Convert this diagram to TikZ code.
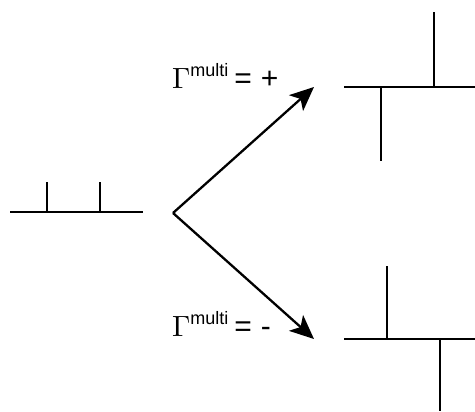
\documentclass[tikz,border=0pt]{standalone}
\usepackage{fontspec}
\usetikzlibrary{arrows.meta}
\newfontfamily\labelsans{Liberation Sans}
\newcommand{\gammasym}{\resizebox{!}{20pt}{$\Gamma$}}
\newcommand{\multisup}{\raisebox{13pt}{\resizebox{38pt}{!}{\labelsans multi}}}
\newcommand{\signpart}[1]{{\labelsans\fontsize{30pt}{32pt}\selectfont\hspace{6pt}=\hspace{9pt}#1}}
\tikzset{
  bar/.style={line width=2.4pt, line cap=butt},
  branch/.style={line width=2.3pt, -{Stealth[length=24pt,width=21pt,inset=6pt]}},
  label/.style={anchor=base west, inner sep=0pt, outer sep=0pt}
}
\begin{document}
\begin{tikzpicture}[x=1pt,y=-1pt]
  \useasboundingbox (0,0) rectangle (475,412);

  % initial configuration: line with two upward legs
  \coordinate (a0) at (10,212);
  \coordinate (a1) at (143,212);
  \coordinate (a2) at (47,212);
  \coordinate (a3) at (47,182);
  \coordinate (a4) at (100,212);
  \coordinate (a5) at (100,182);
  \draw[bar] (a0) -- (a1);
  \draw[bar] (a2) -- (a3);
  \draw[bar] (a4) -- (a5);

  % branching arrows
  \coordinate (v) at (173,213);
  \coordinate (tipup) at (314,87);
  \coordinate (tipdown) at (314,339);
  \draw[branch] (v) -- (tipup);
  \draw[branch] (v) -- (tipdown);

  % upper result
  \coordinate (b0) at (344,87);
  \coordinate (b1) at (475,87);
  \coordinate (b2) at (434,87);
  \coordinate (b3) at (434,12);
  \coordinate (b4) at (381,87);
  \coordinate (b5) at (381,161);
  \draw[bar] (b0) -- (b1);
  \draw[bar] (b2) -- (b3);
  \draw[bar] (b4) -- (b5);

  % lower result
  \coordinate (c0) at (344,339);
  \coordinate (c1) at (475,339);
  \coordinate (c2) at (387,339);
  \coordinate (c3) at (387,266);
  \coordinate (c4) at (440,339);
  \coordinate (c5) at (440,411);
  \draw[bar] (c0) -- (c1);
  \draw[bar] (c2) -- (c3);
  \draw[bar] (c4) -- (c5);

  % labels
  \node[label] (plus) at (172,89) {\gammasym\multisup\signpart{+}};
  \node[label] (minus) at (172,337) {\gammasym\multisup\signpart{-}};
\end{tikzpicture}
\end{document}
